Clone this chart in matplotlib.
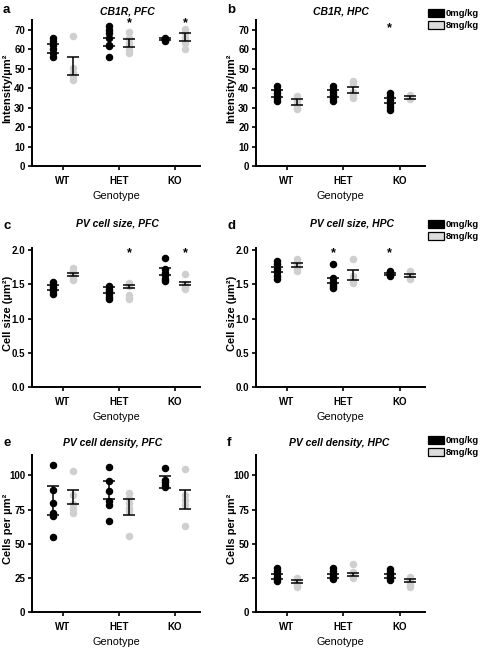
import matplotlib
matplotlib.use("Agg")
import matplotlib.pyplot as plt
from matplotlib.patches import Patch
import numpy as np

plt.rcParams['font.family'] = ['Liberation Sans', 'DejaVu Sans']

W, H = 483, 651

genotypes = ["WT", "HET", "KO"]
doses = ["0mg/kg", "8mg/kg"]
dose_colors = ["#000000", "#cfcfcf"]

# ---- panel a: CB1R, PFC (points per genotype, per dose) ----
a_0 = [[65.5, 64, 62, 60, 58, 56], [72, 70, 68.3, 66, 62.3, 61.4, 55.9], [66, 65.3, 65, 64.5, 64]]
a_8 = [[67, 50.3, 47.7, 45.6, 44.2], [68.6, 66, 63.1, 61.4, 59.5, 58], [70.4, 68.3, 65.7, 63.2, 60.2]]
a_mean_0 = [60.4, 63.7, 65.0]
a_sem_0 = [2.1, 2.3, 0.5]
a_mean_8 = [51.2, 63.2, 66.35]
a_sem_8 = [4.6, 2.0, 1.95]

# ---- panel b: CB1R, HPC ----
b_0 = [[41, 39, 37.5, 36, 35, 33.5], [41, 39.5, 38, 36.5, 35, 33.5], [37.5, 36, 34, 32, 30.5, 29]]
b_8 = [[36, 34, 33, 31.5, 30, 29.5], [43.5, 42, 38, 36, 35], [36.5, 35.5, 35, 34.5]]
b_mean_0 = [37.3, 37.3, 33.65]
b_sem_0 = [1.7, 1.7, 1.45]
b_mean_8 = [32.75, 39.05, 35.15]
b_sem_8 = [1.45, 1.75, 0.95]

# ---- panel c: PV cell size, PFC ----
c_0 = [[1.53, 1.49, 1.46, 1.43, 1.40, 1.36], [1.47, 1.43, 1.40, 1.36, 1.32, 1.28], [1.89, 1.72, 1.67, 1.63, 1.58, 1.55]]
c_8 = [[1.74, 1.70, 1.66, 1.62, 1.58, 1.56], [1.52, 1.48, 1.35, 1.30, 1.28], [1.65, 1.50, 1.47, 1.45, 1.43]]
c_mean_0 = [1.453, 1.417, 1.69]
c_sem_0 = [0.037, 0.049, 0.054]
c_mean_8 = [1.645, 1.465, 1.515]
c_sem_8 = [0.025, 0.025, 0.025]

# ---- panel d: PV cell size, HPC ----
d_0 = [[1.84, 1.79, 1.73, 1.68, 1.62, 1.57], [1.80, 1.59, 1.53, 1.50, 1.47, 1.45], [1.70, 1.68, 1.66, 1.65, 1.63, 1.62]]
d_8 = [[1.87, 1.83, 1.79, 1.75, 1.72, 1.69], [1.87, 1.62, 1.57, 1.54, 1.52], [1.69, 1.65, 1.62, 1.60, 1.58]]
d_mean_0 = [1.72, 1.556, 1.653]
d_sem_0 = [0.037, 0.041, 0.017]
d_mean_8 = [1.78, 1.633, 1.625]
d_sem_8 = [0.025, 0.07, 0.025]

# ---- panel e: PV cell density, PFC ----
e_0 = [[108, 89.2, 79.9, 72.5, 70.6, 54.7], [106, 96.3, 88.5, 81, 78.7, 67], [105.6, 97, 95, 93, 91.5]]
e_8 = [[103, 85.5, 79.4, 75.7, 72.5], [86.8, 83.6, 80, 76.5, 73.8, 56], [105, 86, 82, 78.7, 62.7]]
e_mean_0 = [81.4, 89.65, 95.25]
e_sem_0 = [10.6, 6.65, 4.25]
e_mean_8 = [84.25, 76.9, 82.7]
e_sem_8 = [4.95, 6.1, 7.0]

# ---- panel f: PV cell density, HPC ----
f_0 = [[32, 30, 28, 26, 24.5, 23], [32, 30, 28, 26.5, 25, 24], [31.5, 29.5, 28, 26.5, 25, 23.5]]
f_8 = [[25, 23, 21.5, 20, 18.5], [35, 29, 27.5, 26, 25], [26, 24, 22, 20, 18.5]]
f_mean_0 = [26.1, 26.7, 26.25]
f_sem_0 = [1.6, 1.5, 1.25]
f_mean_8 = [22.3, 27.7, 23.25]
f_sem_8 = [1.0, 1.0, 1.25]

# significance stars: (genotype index, dose index)
a_stars = [(1, 1), (2, 1)]
b_stars = [(2, 0)]
c_stars = [(1, 1), (2, 1)]
d_stars = [(1, 0), (2, 0)]
e_stars = []
f_stars = []

titles = ["CB1R, PFC", "CB1R, HPC", "PV cell size, PFC", "PV cell size, HPC",
          "PV cell density, PFC", "PV cell density, HPC"]
ylabels = ["Intensity/µm²", "Intensity/µm²", "Cell size (µm²)", "Cell size (µm²)",
           "Cells per µm²", "Cells per µm²"]
letters = ["a", "b", "c", "d", "e", "f"]

panels = [
    (a_0, a_8, a_mean_0, a_sem_0, a_mean_8, a_sem_8, a_stars),
    (b_0, b_8, b_mean_0, b_sem_0, b_mean_8, b_sem_8, b_stars),
    (c_0, c_8, c_mean_0, c_sem_0, c_mean_8, c_sem_8, c_stars),
    (d_0, d_8, d_mean_0, d_sem_0, d_mean_8, d_sem_8, d_stars),
    (e_0, e_8, e_mean_0, e_sem_0, e_mean_8, e_sem_8, e_stars),
    (f_0, f_8, f_mean_0, f_sem_0, f_mean_8, f_sem_8, f_stars),
]

ylims = [(0, 75), (0, 75), (0, 2.03), (0, 2.03), (0, 115), (0, 115)]
yticks = [np.arange(0, 71, 10), np.arange(0, 71, 10),
          [0.0, 0.5, 1.0, 1.5, 2.0], [0.0, 0.5, 1.0, 1.5, 2.0],
          [0, 25, 50, 75, 100], [0, 25, 50, 75, 100]]
ytickfmt = [None, None, "{:.1f}", "{:.1f}", None, None]
star_y = [73.5, 71.0, 1.96, 1.96, None, None]

# layout in pixels: (left, right, top, bottom)
cols = [(32, 200), (256, 425)]
rows = [(20, 166), (248, 387), (455, 612)]
title_x = [127, 341, 117, 352, 113, 339]
title_y = [11, 223, 443]
letter_pos = [(3, 10), (227, 10), (3, 226), (227, 226), (3, 443), (227, 443)]
legend_top = [9, 220, 436]

offsets = [-0.18, 0.18]

fig = plt.figure(figsize=(W / 100, H / 100), dpi=100)

for i, (p0, p8, m0, s0, m8, s8, stars) in enumerate(panels):
    r, c = divmod(i, 2)
    l, rt = cols[c]
    t, b = rows[r]
    ax = fig.add_axes([l / W, 1 - b / H, (rt - l) / W, (b - t) / H])
    pts = [p0, p8]
    means = [m0, m8]
    sems = [s0, s8]
    for d in range(2):
        for g in range(3):
            x = g + offsets[d]
            ys = pts[d][g]
            ax.plot([x] * len(ys), ys, 'o', color=dose_colors[d], ms=4.4,
                    mec=dose_colors[d], zorder=2, clip_on=False)
            ax.errorbar([x], [means[d][g]], yerr=[sems[d][g]], fmt='none',
                        ecolor='black', elinewidth=1.1, capsize=4.5,
                        capthick=1.1, zorder=3)
    for g, d in stars:
        ax.text(g + offsets[d], star_y[i], "*", ha='center', va='center',
                fontsize=9, fontweight='bold', clip_on=False)
    ax.set_xlim(-0.55, 2.45)
    ax.set_ylim(*ylims[i])
    ax.set_xticks(range(3))
    ax.set_xticklabels(genotypes, fontsize=7, fontweight='bold')
    ax.set_yticks(yticks[i])
    if ytickfmt[i]:
        ax.set_yticklabels([ytickfmt[i].format(v) for v in yticks[i]])
    for lab in ax.get_yticklabels():
        lab.set_fontsize(7)
        lab.set_fontweight('bold')
    for sp in ['top', 'right']:
        ax.spines[sp].set_visible(False)
    for sp in ['left', 'bottom']:
        ax.spines[sp].set_linewidth(1.4)
    ax.tick_params(axis='both', direction='out', length=3, width=1.2, pad=2)
    ax.tick_params(axis='x', pad=4)
    ax.set_xlabel("Genotype", fontsize=7.8, labelpad=4)
    ax.set_ylabel(ylabels[i], fontsize=8, fontweight='bold')
    ax.yaxis.set_label_coords(-0.115, 0.53)
    fig.text(title_x[i] / W, 1 - title_y[r] / H, titles[i], ha='center', va='center',
             fontsize=7.5, fontweight='bold', fontstyle='italic')
    lx, ly = letter_pos[i]
    fig.text(lx / W, 1 - ly / H, letters[i], ha='left', va='center',
             fontsize=9.5, fontweight='bold')
    if c == 1:
        handles = [Patch(facecolor=dose_colors[0], edgecolor='black', lw=0.9),
                   Patch(facecolor='#dcdcdc', edgecolor='black', lw=0.9)]
        fig.legend(handles, doses, loc='upper left',
                   bbox_to_anchor=(428 / W, 1 - legend_top[r] / H),
                   frameon=False, borderpad=0, borderaxespad=0,
                   handlelength=1.65, handleheight=0.9, handletextpad=0.25,
                   labelspacing=0.3, prop={'weight': 'bold', 'size': 6.8})

fig.savefig("out.png", dpi=100)
